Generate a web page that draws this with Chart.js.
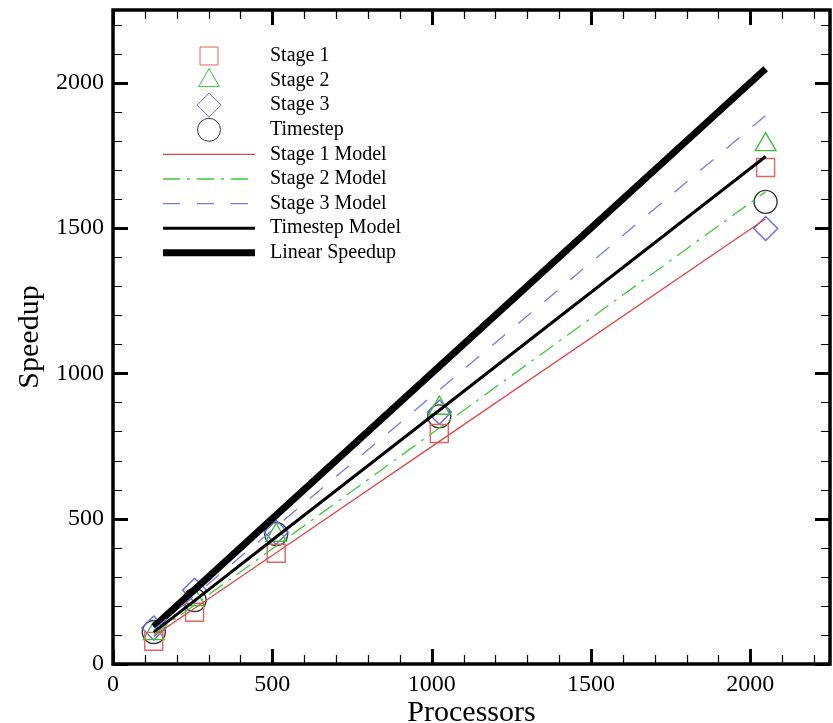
<!DOCTYPE html>
<html>
<head>
<meta charset="utf-8">
<script src="https://cdn.jsdelivr.net/npm/chart.js"></script>
<style>
  html, body { margin:0; padding:0; background:#fff; }
  #wrap { width:833px; height:723px; }
</style>
</head>
<body>
<div id="wrap"><canvas id="chartSpeedup" width="833" height="723"></canvas></div>
<script>
// --- speedup vs processors ---
const procs = [128, 256, 512, 1024, 2048];
const stage1 = [78, 178, 381, 793, 1708];
const stage2 = [105, 222, 443, 880, 1787];
const stage3 = [124, 254, 453, 866, 1498];
const timestep = [110, 220, 447, 852, 1590];
const stage1Model = [96, 192, 383, 766, 1532];
const stage2Model = [102, 203, 406, 812, 1625];
const stage3Model = [118, 236, 472, 943, 1887];
const timestepModel = [109, 218, 437, 873, 1746];
const linearSpeedup = [128, 256, 512, 1024, 2048];
const majorTicks = [0, 500, 1000, 1500, 2000];

const xMax = 2250, yMax = 2250;
const serif = '"Liberation Serif", "Times New Roman", serif';

function pts(ys) { return procs.map((x, i) => ({x: x, y: ys[i]})); }

function markerSet(label, ys, color, style, r) {
  return {label, data: pts(ys), showLine:false, pointStyle:style, pointRadius:r, pointHoverRadius:r,
    pointBorderColor:color, pointBackgroundColor:'rgba(0,0,0,0)', pointBorderWidth:1.4, order:10};
}
function lineSet(label, ys, color, width, dash) {
  return {label, data: pts(ys), showLine:true, pointRadius:0, borderColor:color, borderWidth:width,
    borderDash:dash, fill:false, tension:0, order:1};
}

const datasets = [
  markerSet('Stage 1', stage1, '#e06464', 'rect', 12.7),
  markerSet('Stage 2', stage2, '#3fbf3f', 'triangle', 12),
  markerSet('Stage 3', stage3, '#6a6ae0', 'rectRot', 12),
  markerSet('Timestep', timestep, '#333333', 'circle', 11.5),
  lineSet('Stage 1 Model', stage1Model, '#dd4848', 1.3, []),
  lineSet('Stage 2 Model', stage2Model, '#3fc83f', 1.3, [17, 7, 3, 7]),
  lineSet('Stage 3 Model', stage3Model, '#7a7ae0', 1.3, [17, 17]),
  lineSet('Timestep Model', timestepModel, '#000000', 3, []),
  lineSet('Linear Speedup', linearSpeedup, '#000000', 7, [])
];

// frame with inward major/minor ticks on all four sides
const framePlugin = {
  id: 'frame',
  afterDatasetsDraw(chart) {
    const {ctx, chartArea: a, scales} = chart;
    ctx.save();
    ctx.strokeStyle = '#000';
    ctx.lineCap = 'butt';
    for (let v = 0; v <= xMax; v += 100) {
      const major = v % 500 === 0;
      const px = Math.round(scales.x.getPixelForValue(v)) + 0.5;
      const len = major ? 15 : 9;
      ctx.lineWidth = major ? 3 : 1.2;
      ctx.beginPath();
      ctx.moveTo(px, a.bottom); ctx.lineTo(px, a.bottom - len);
      ctx.moveTo(px, a.top); ctx.lineTo(px, a.top + len);
      ctx.stroke();
    }
    for (let v = 0; v <= yMax; v += 100) {
      const major = v % 500 === 0;
      const py = Math.round(scales.y.getPixelForValue(v)) + 0.5;
      const len = major ? 15 : 9;
      ctx.lineWidth = major ? 3 : 1.2;
      ctx.beginPath();
      ctx.moveTo(a.left, py); ctx.lineTo(a.left + len, py);
      ctx.moveTo(a.right, py); ctx.lineTo(a.right - len, py);
      ctx.stroke();
    }
    ctx.lineWidth = 3.5;
    ctx.strokeRect(a.left, a.top, a.right - a.left, a.bottom - a.top);

    // axis titles
    ctx.fillStyle = '#000';
    ctx.font = '30px ' + serif;
    ctx.textAlign = 'center';
    ctx.textBaseline = 'alphabetic';
    ctx.fillText('Processors', (a.left + a.right) / 2, 721);
    ctx.translate(38, (a.top + a.bottom) / 2);
    ctx.rotate(-Math.PI / 2);
    ctx.fillText('Speedup', 0, 0);
    ctx.restore();
  }
};

// legend drawn inside plot area, markers then line samples
const legendPlugin = {
  id: 'inLegend',
  afterDraw(chart) {
    const ctx = chart.ctx;
    const x0 = 163, x1 = 255, markX = 209, textX = 270, rowY = 56, step = 24.6;
    ctx.save();
    ctx.font = '20px ' + serif;
    ctx.textBaseline = 'middle';
    ctx.textAlign = 'left';
    chart.data.datasets.forEach((ds, i) => {
      const y = rowY + i * step;
      if (ds.showLine) {
        ctx.strokeStyle = ds.borderColor;
        ctx.lineWidth = ds.borderWidth;
        ctx.setLineDash(ds.borderDash || []);
        ctx.beginPath(); ctx.moveTo(x0, y); ctx.lineTo(x1, y); ctx.stroke();
        ctx.setLineDash([]);
      } else {
        ctx.strokeStyle = ds.pointBorderColor;
        ctx.fillStyle = 'rgba(0,0,0,0)';
        Chart.helpers.drawPoint(ctx, {pointStyle: ds.pointStyle, radius: ds.pointRadius, rotation: 0, borderWidth: ds.pointBorderWidth}, markX, y);
      }
      ctx.fillStyle = '#000';
      ctx.fillText(ds.label, textX, y);
    });
    ctx.restore();
  }
};

function fixedTicks(s) { s.ticks = majorTicks.map(v => ({value: v})); }
// keep tick labels from pushing the plot frame inward
function noPad(s) {
  s.paddingTop = s.paddingBottom = s.paddingLeft = s.paddingRight = 0;
}

const chartSpeedup = new Chart(document.getElementById('chartSpeedup').getContext('2d'), {
  type: 'scatter',
  data: {datasets},
  options: {
    responsive: false,
    animation: false,
    layout: {autoPadding: false, padding: {top: 10, right: 3, left: 0, bottom: 0}},
    plugins: {legend: {display: false}, tooltip: {enabled: false}},
    scales: {
      x: {
        type: 'linear', min: 0, max: xMax,
        grid: {display: false, drawTicks: false},
        border: {display: false},
        afterBuildTicks: fixedTicks,
        ticks: {autoSkip: false, maxRotation: 0, padding: 6, callback: v => String(v),
          color: '#000', font: {family: serif, size: 24}},
        afterFit(s) { s.height = 59; noPad(s); }
      },
      y: {
        type: 'linear', min: 0, max: yMax,
        grid: {display: false, drawTicks: false},
        border: {display: false},
        afterBuildTicks: fixedTicks,
        ticks: {autoSkip: false, padding: 9, callback: v => String(v),
          color: '#000', font: {family: serif, size: 24}},
        afterFit(s) { s.width = 113; noPad(s); }
      }
    }
  },
  plugins: [framePlugin, legendPlugin]
});
</script>
</body>
</html>
